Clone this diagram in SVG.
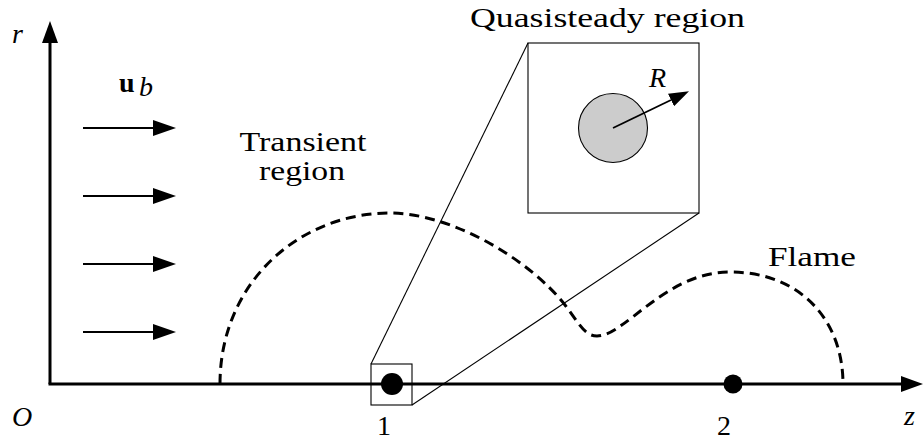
<svg xmlns="http://www.w3.org/2000/svg" width="924" height="441" viewBox="0 0 924 441">
<style>
text{font-family:"Liberation Serif","DejaVu Serif","Times New Roman",serif;fill:#000;font-size:28px}
.it{font-style:italic}
.axis{stroke:#000;stroke-width:3;fill:none}
.flow{stroke:#000;stroke-width:2.2;fill:none}
.thin{stroke:#000;stroke-width:1.1;fill:none}
.flame{stroke:#000;stroke-width:3;fill:none;stroke-dasharray:10 6}
</style>
<defs>
<marker id="ah" markerUnits="userSpaceOnUse" viewBox="0 0 22 16" markerWidth="22" markerHeight="16" refX="0" refY="8" orient="auto"><path d="M0,0 L22,8 L0,16 z" fill="#000"/></marker>
<marker id="fh" markerUnits="userSpaceOnUse" viewBox="0 0 23 16" markerWidth="23" markerHeight="16" refX="0" refY="8" orient="auto"><path d="M0,0 L23,8 L0,16 z" fill="#000"/></marker>
<marker id="rh" markerUnits="userSpaceOnUse" viewBox="0 0 20 14" markerWidth="20" markerHeight="14" refX="0" refY="7" orient="auto"><path d="M0,0 L20,7 L0,14 z" fill="#000"/></marker>
</defs>
<rect width="924" height="441" fill="#fff"/>
<g id="connectors">
<line class="axis" x1="50" y1="384" x2="50" y2="43" marker-end="url(#ah)"/>
<line class="axis" x1="48.5" y1="384" x2="901" y2="384" marker-end="url(#ah)"/>
<line class="flow" x1="83" y1="128" x2="153" y2="128" marker-end="url(#fh)"/>
<line class="flow" x1="83" y1="196" x2="153" y2="196" marker-end="url(#fh)"/>
<line class="flow" x1="83" y1="264" x2="153" y2="264" marker-end="url(#fh)"/>
<line class="flow" x1="83" y1="332" x2="153" y2="332" marker-end="url(#fh)"/>
<line class="thin" x1="371" y1="364" x2="528" y2="43"/>
<line class="thin" x1="412" y1="405" x2="699" y2="213"/>
</g>
<g id="flame">
<path class="flame" d="M220,384 C220,282 300,213 390,213 C450,213 528,258 565,305 C580,325 585,336 597,336 C625,336 665,272 730,272 C800,272 843,320 843,384"/>
</g>
<g id="point1">
<rect class="thin" x="371" y="364" width="41" height="41"/>
<circle cx="392" cy="384" r="11" fill="#000"/>
</g>
<g id="point2">
<circle cx="733" cy="384" r="9.5" fill="#000"/>
</g>
<g id="inset">
<rect class="thin" x="528" y="43" width="171" height="170" fill="#fff"/>
<circle cx="613" cy="128" r="34.5" fill="#cccccc" stroke="#000" stroke-width="1.1"/>
<line x1="613" y1="128" x2="671" y2="100" stroke="#000" stroke-width="1.8" marker-end="url(#rh)"/>
</g>
<g id="labels">
<text class="it" x="12" y="43">r</text>
<text x="119" y="92" font-weight="bold">u</text>
<text class="it" x="139" y="96" font-size="20">b</text>
<text x="470" y="27" textLength="275" lengthAdjust="spacingAndGlyphs">Quasisteady region</text>
<text class="it" x="649" y="87">R</text>
<text x="303" y="151" text-anchor="middle" font-size="25" textLength="127" lengthAdjust="spacingAndGlyphs">Transient</text>
<text x="302" y="180" text-anchor="middle" font-size="25" textLength="86" lengthAdjust="spacingAndGlyphs">region</text>
<text x="768" y="266" textLength="88" lengthAdjust="spacingAndGlyphs">Flame</text>
<text class="it" x="12" y="426">O</text>
<text class="it" x="904" y="425">z</text>
<text x="377" y="435">1</text>
<text x="717" y="435">2</text>
</g>
</svg>
